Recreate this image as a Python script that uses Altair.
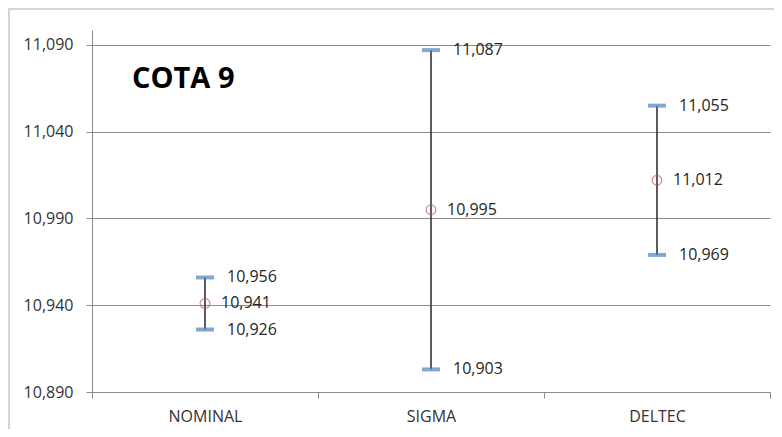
import altair as alt
import pandas as pd

title_text = ["COTA 9"]
categories = ["NOMINAL", "SIGMA", "DELTEC"]
mins = [10.926, 10.903, 10.969]
means = [10.941, 10.995, 11.012]
maxs = [10.956, 11.087, 11.055]
y_ticks = [10.890, 10.940, 10.990, 11.040, 11.090]

df = pd.DataFrame({"cat": categories, "lo": mins, "mean": means, "hi": maxs})

FONT = "Open Sans"
fmt = "replace(format(datum.v, '.3f'), '.', ',')"

x = alt.X("cat:N", sort=categories, title=None,
          scale=alt.Scale(paddingInner=0, paddingOuter=0),
          axis=alt.Axis(labelAngle=0, tickBand="extent", grid=False, tickSize=6,
                        labelPadding=10, labelFontSize=16, labelFont=FONT,
                        labelColor="#333333", domainColor="#8c8c8c", tickColor="#8c8c8c"))
yscale = alt.Scale(domain=[10.89, 11.0986], nice=False, zero=False)
yaxis = alt.Axis(values=y_ticks, labelExpr="replace(format(datum.value, '.3f'), '.', ',')",
                 grid=True, gridColor="#8c8c8c", domainColor="#8c8c8c", tickColor="#8c8c8c",
                 tickSize=6, labelPadding=13, labelFontSize=16, labelFont=FONT,
                 labelColor="#333333", title=None)

base = alt.Chart(df)

border = alt.Chart(pd.DataFrame({"a": [0]})).mark_rect(
    fillOpacity=0, stroke="#d4d4d4", strokeWidth=2
).encode(x=alt.value(-83), y=alt.value(-21), x2=alt.value(720), y2=alt.value(440))

title = alt.Chart(pd.DataFrame({"t": title_text})).mark_text(
    align="left", baseline="alphabetic", font=FONT, fontSize=29, fontWeight="bold",
    color="#000000"
).encode(text="t:N", x=alt.value(40), y=alt.value(58))

rule = base.mark_rule(color="#333333", strokeWidth=1.6).encode(
    x=x, y=alt.Y("lo:Q", scale=yscale, axis=yaxis), y2="hi:Q")

folded = base.transform_fold(["lo", "hi"], as_=["k", "v"]).transform_calculate(label=fmt)

caps = folded.mark_tick(color="#4F81BD", thickness=4, size=18).encode(
    x=x, y=alt.Y("v:Q", scale=yscale, axis=yaxis))

cap_text = folded.mark_text(align="left", baseline="middle", dx=22, font=FONT,
                            fontSize=16, color="#262626").encode(
    x=x, y=alt.Y("v:Q", scale=yscale, axis=yaxis), text="label:N")

mean_pt = base.mark_point(shape="circle", filled=False, color="#C0504D", size=95,
                          strokeWidth=1.1).encode(
    x=x, y=alt.Y("mean:Q", scale=yscale, axis=yaxis))

mean_text = base.transform_calculate(v="datum.mean").transform_calculate(label=fmt).mark_text(
    align="left", baseline="middle", dx=16, font=FONT, fontSize=16, color="#262626").encode(
    x=x, y=alt.Y("v:Q", scale=yscale, axis=yaxis), text="label:N")

chart = alt.layer(border, title, rule, caps, mean_pt, cap_text, mean_text).properties(
    width=678, height=362,
    autosize=alt.AutoSizeParams(type="none"),
    padding={"left": 84, "top": 22, "right": 4, "bottom": 37},
).configure_view(stroke=None)

chart.save("out.html", embed_options={"renderer": "svg", "actions": False})
